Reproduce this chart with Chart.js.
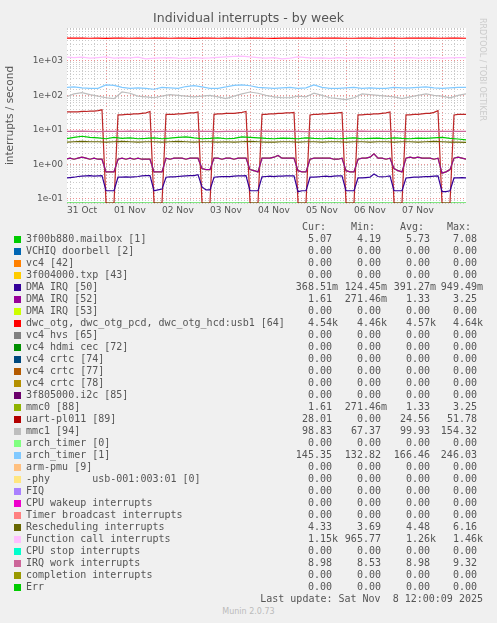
<!DOCTYPE html>
<html>
<head>
<meta charset="utf-8">
<script src="https://cdn.jsdelivr.net/npm/chart.js@4"></script>
<style>
  body { margin: 0; background: #f0f0f0; width: 497px; height: 623px; overflow: hidden; font-family: "DejaVu Sans", sans-serif; }
  #wrap { position: absolute; left: 0; top: 0; width: 497px; height: 225px; }
  .abs { position: absolute; white-space: pre; line-height: 12px; }
  .mono { font-family: "DejaVu Sans Mono", monospace; font-size: 10px; color: #555; }
  .sw { position: absolute; width: 7px; height: 7px; }
</style>
</head>
<body>
<div id="wrap"><canvas id="c" width="497" height="225"></canvas></div>
<div class="abs" style="left:0;width:497px;top:12px;text-align:center;font-size:12.5px;color:#555;">Individual interrupts - by week</div>
<div class="abs" style="left:478px;top:18px;font-size:8px;color:#ccc;transform-origin:0 0;transform:translate(10px,0) rotate(90deg);">RRDTOOL / TOBI OETIKER</div>
<div id="legend"></div>
<script>
/* --- dados --- */
const names = ['3f00b880.mailbox [1]', 'VCHIQ doorbell [2]', 'vc4 [42]', '3f004000.txp [43]', 'DMA IRQ [50]',
  'DMA IRQ [52]', 'DMA IRQ [53]', 'dwc_otg, dwc_otg_pcd, dwc_otg_hcd:usb1 [64]', 'vc4 hvs [65]', 'vc4 hdmi cec [72]',
  'vc4 crtc [74]', 'vc4 crtc [77]', 'vc4 crtc [78]', '3f805000.i2c [85]', 'mmc0 [88]', 'uart-pl011 [89]', 'mmc1 [94]',
  'arch_timer [0]', 'arch_timer [1]', 'arm-pmu [9]', '-phy       usb-001:003:01 [0]', 'FIQ', 'CPU wakeup interrupts',
  'Timer broadcast interrupts', 'Rescheduling interrupts', 'Function call interrupts', 'CPU stop interrupts',
  'IRQ work interrupts', 'completion interrupts', 'Err'];
const colors = ['#00cc00', '#0066b3', '#ff8000', '#ffcc00', '#330099', '#990099', '#ccff00', '#ff0000', '#808080', '#008f00',
  '#00487d', '#b35a00', '#b38f00', '#6b006b', '#8fb300', '#b30000', '#bebebe', '#80ff80', '#80c9ff', '#ffc080',
  '#ffe680', '#aa80ff', '#ee00cc', '#ff8080', '#666600', '#ffbfff', '#00ffcc', '#cc6699', '#999900', '#00cc00'];
const curV = ['5.07', '0.00', '0.00', '0.00', '368.51m', '1.61', '0.00', '4.54k', '0.00', '0.00', '0.00', '0.00', '0.00', '0.00',
  '1.61', '28.01', '98.83', '0.00', '145.35', '0.00', '0.00', '0.00', '0.00', '0.00', '4.33', '1.15k', '0.00', '8.98', '0.00', '0.00'];
const minV = ['4.19', '0.00', '0.00', '0.00', '124.45m', '271.46m', '0.00', '4.46k', '0.00', '0.00', '0.00', '0.00', '0.00', '0.00',
  '271.46m', '0.00', '67.37', '0.00', '132.82', '0.00', '0.00', '0.00', '0.00', '0.00', '3.69', '965.77', '0.00', '8.53', '0.00', '0.00'];
const avgV = ['5.73', '0.00', '0.00', '0.00', '391.27m', '1.33', '0.00', '4.57k', '0.00', '0.00', '0.00', '0.00', '0.00', '0.00',
  '1.33', '24.56', '99.93', '0.00', '166.46', '0.00', '0.00', '0.00', '0.00', '0.00', '4.48', '1.26k', '0.00', '8.98', '0.00', '0.00'];
const maxV = ['7.08', '0.00', '0.00', '0.00', '949.49m', '3.25', '0.00', '4.64k', '0.00', '0.00', '0.00', '0.00', '0.00', '0.00',
  '3.25', '51.78', '154.32', '0.00', '246.03', '0.00', '0.00', '0.00', '0.00', '0.00', '6.16', '1.46k', '0.00', '9.32', '0.00', '0.00'];

/* horas desde 31 Oct 00:00 — amostras a cada 2 h (fino) e 4 h (grosso) */
const hoursFine = [];
for (let h = 4; h <= 204; h += 2) hoursFine.push(h);
const hoursCoarse = [];
for (let h = 4; h <= 204; h += 4) hoursCoarse.push(h);

const uart = [
  33, 33, 33, 33, 34, 34, 35, 35, 36, 38,
  0, 0, 0, 27, 27, 28, 28, 29, 29, 30, 31, 34,
  0, 0, 0, 28, 28, 28, 29, 29, 30, 31, 31, 33,
  0, 0, 0, 28, 29, 29, 30, 30, 30, 31, 32, 34,
  0, 0, 0, 28, 28, 29, 29, 30, 30, 31, 31, 32,
  0, 0, 0, 27, 28, 28, 29, 29, 30, 30, 31, 32,
  0, 0, 0, 27, 27, 28, 28, 29, 29, 30, 31, 33,
  0, 0, 0, 27, 27, 28, 28, 29, 30, 30, 32, 36,
  0, 0, 0, 27, 28, 28, 28];
const dma50 = [
  0.40, 0.41, 0.42, 0.44, 0.45, 0.46, 0.47, 0.45, 0.46, 0.47,
  0.17, 0.17, 0.17, 0.42, 0.42, 0.43, 0.42, 0.43, 0.44, 0.46, 0.47, 0.47,
  0.17, 0.18, 0.19, 0.42, 0.43, 0.43, 0.44, 0.45, 0.46, 0.47, 0.47, 0.50,
  0.22, 0.18, 0.18, 0.42, 0.43, 0.44, 0.44, 0.44, 0.45, 0.46, 0.46, 0.47,
  0.17, 0.17, 0.17, 0.43, 0.44, 0.45, 0.44, 0.45, 0.45, 0.46, 0.46, 0.46,
  0.16, 0.17, 0.17, 0.42, 0.42, 0.43, 0.44, 0.45, 0.44, 0.45, 0.46, 0.46,
  0.17, 0.17, 0.17, 0.40, 0.40, 0.41, 0.42, 0.52, 0.44, 0.43, 0.44, 0.46,
  0.17, 0.17, 0.17, 0.40, 0.41, 0.42, 0.42, 0.43, 0.44, 0.44, 0.45, 0.46,
  0.16, 0.16, 0.17, 0.40, 0.40, 0.41, 0.40];
const mmc0 = [
  1.4, 1.5, 1.4, 1.5, 1.6, 1.5, 1.4, 1.5, 1.4, 1.4,
  0.6, 0.6, 0.6, 1.4, 1.5, 1.4, 1.5, 1.4, 1.5, 1.4, 1.4, 1.4,
  0.6, 0.6, 0.6, 1.5, 1.4, 1.5, 1.5, 1.5, 1.4, 1.5, 1.5, 1.5,
  0.75, 0.7, 0.7, 1.5, 1.5, 1.4, 1.5, 1.5, 1.4, 1.5, 1.5, 1.5,
  0.7, 0.65, 0.6, 1.5, 1.5, 1.5, 1.6, 1.8, 1.5, 1.5, 1.5, 1.5,
  0.65, 0.6, 0.6, 1.4, 1.5, 1.5, 1.5, 1.5, 1.5, 1.4, 1.4, 1.5,
  0.65, 0.6, 0.6, 1.4, 1.5, 1.5, 1.6, 2.0, 1.5, 1.5, 1.4, 1.5,
  0.75, 0.65, 0.6, 1.5, 1.6, 1.5, 1.6, 1.5, 1.5, 1.5, 1.4, 1.5,
  0.55, 0.6, 0.7, 1.5, 1.6, 1.5, 1.4];

const dwc = [
  4600, 4550, 4560, 4540, 4550, 4520, 4550, 4560, 4540, 4550,
  4530, 4560, 4550, 4540, 4560, 4550, 4520, 4560, 4550, 4540,
  4560, 4550, 4540, 4560, 4550, 4540, 4520, 4560, 4550, 4550,
  4560, 4540, 4550, 4550, 4560, 4540, 4530, 4560, 4550, 4540,
  4560, 4550, 4540, 4560, 4550, 4550, 4560, 4540, 4550, 4560, 4540];
const funcCall = [
  1300, 1250, 1280, 1200, 1250, 1300, 1200, 1250, 1220, 1280,
  1150, 1200, 1220, 1250, 1200, 1180, 1250, 1200, 1220, 1260,
  1300, 1350, 1380, 1300, 1250, 1200, 1250, 1150, 1200, 1300,
  1250, 1200, 1220, 1180, 1250, 1200, 1220, 1250, 1200, 1220,
  1250, 1200, 1220, 1250, 1200, 1220, 1250, 1200, 1230, 1250, 1250];
const arch1 = [
  170, 175, 165, 160, 160, 200, 195, 170, 160, 165,
  160, 150, 170, 165, 160, 180, 190, 175, 160, 160,
  175, 195, 200, 190, 170, 165, 160, 165, 170, 160,
  165, 200, 170, 160, 160, 165, 170, 160, 165, 160,
  160, 170, 165, 165, 170, 175, 165, 160, 165, 170, 170];
const mmc1 = [
  90, 110, 120, 105, 95, 85, 80, 125, 115, 95,
  90, 85, 95, 105, 100, 95, 90, 95, 100, 90,
  80, 95, 110, 125, 115, 100, 90, 85, 85, 95,
  90, 115, 100, 85, 80, 75, 85, 110, 105, 100,
  95, 90, 80, 90, 100, 110, 100, 95, 85, 100, 110];
const mailbox = [
  5.5, 6.0, 6.5, 6.0, 5.8, 5.5, 6.0, 5.6, 5.8, 5.5,
  5.6, 5.8, 5.5, 5.7, 6.0, 6.2, 5.8, 5.5, 5.6, 5.8,
  5.5, 5.6, 6.2, 6.0, 5.8, 5.6, 5.5, 5.7, 5.6, 5.5,
  5.8, 5.6, 5.5, 5.7, 5.5, 5.6, 5.8, 5.5, 5.6, 5.7,
  5.5, 5.8, 5.6, 5.5, 5.7, 5.6, 5.8, 6.0, 5.6, 5.4, 5.1];
const resched = [
  4.4, 4.5, 4.6, 4.5, 4.5, 4.4, 4.5, 4.6, 4.5, 4.4,
  4.5, 4.5, 4.4, 4.5, 4.6, 4.5, 4.4, 4.5, 4.5, 4.4,
  4.5, 4.4, 4.5, 4.6, 4.5, 4.4, 4.4, 4.5, 4.5, 4.4,
  4.5, 4.5, 4.4, 4.5, 4.5, 4.4, 4.5, 4.5, 4.4, 4.5,
  4.5, 4.4, 4.5, 4.5, 4.4, 4.5, 4.6, 4.5, 4.4, 4.4, 4.3];
const irqWork = [
  9.0, 9.0, 9.1, 9.0, 8.9, 9.0, 9.0, 9.0, 9.1, 9.0,
  9.0, 8.9, 9.0, 9.0, 9.0, 9.0, 9.1, 9.0, 9.0, 8.9,
  9.0, 9.0, 9.0, 9.0, 9.0, 9.1, 9.0, 9.0, 9.0, 9.0,
  8.9, 9.0, 9.0, 9.0, 9.0, 9.0, 9.0, 9.1, 9.0, 9.0,
  9.0, 9.0, 8.9, 9.0, 9.0, 9.0, 9.0, 9.0, 9.0, 9.0, 9.0];
const errZero = hoursCoarse.map(() => 0);

const dayLabels = ['31 Oct', '01 Nov', '02 Nov', '03 Nov', '04 Nov', '05 Nov', '06 Nov', '07 Nov'];
const Y_MIN = 0.075, Y_MAX = 9000;

/* --- monta os datasets --- */
const toPts = (xs, vs) => vs.map((v, i) => ({ x: xs[i], y: v === 0 ? Y_MIN : v }));
const series = [
  [7, hoursCoarse, dwc], [25, hoursCoarse, funcCall], [18, hoursCoarse, arch1], [16, hoursCoarse, mmc1],
  [27, hoursCoarse, irqWork], [0, hoursCoarse, mailbox], [24, hoursCoarse, resched],
  [5, hoursFine, mmc0], [14, hoursFine, mmc0], [4, hoursFine, dma50], [15, hoursFine, uart], [29, hoursCoarse, errZero]
];
const datasets = series.map(([idx, xs, vs]) => ({
  data: toPts(xs, vs), borderColor: colors[idx], borderWidth: 1.2, pointRadius: 0, tension: 0
}));
/* uart com transparência nas quedas, como no rrdtool */
datasets[10].borderColor = 'rgba(179,0,0,0.85)';

const isPow10 = v => Math.abs(Math.log10(v) - Math.round(Math.log10(v))) < 1e-6;

new Chart(document.getElementById('c'), {
  type: 'line',
  data: { datasets },
  options: {
    responsive: false,
    animation: false,
    layout: { padding: { top: 28, right: 31, left: 4, bottom: 0 } },
    plugins: { legend: { display: false }, tooltip: { enabled: false } },
    scales: {
      x: {
        type: 'linear', min: 4.5, max: 204,
        afterBuildTicks: s => { const t = []; for (let h = 6; h <= 204; h += 6) t.push({ value: h }); s.ticks = t; },
        afterFit: s => { s.height = 22; },
        ticks: {
          autoSkip: false, maxRotation: 0, color: '#555', font: { family: 'DejaVu Sans', size: 9 }, padding: 2,
          callback: v => ((v - 12) % 24 === 0 ? dayLabels[(v - 12) / 24] : '')
        },
        grid: {
          color: c => (c.tick && c.tick.value % 24 === 0 ? 'rgba(230,120,120,0.8)' : 'rgba(190,190,190,0.8)'),
          lineWidth: 1, drawTicks: false
        },
        border: { display: false, dash: [1, 2] }
      },
      y: {
        type: 'logarithmic', min: Y_MIN, max: Y_MAX,
        afterFit: s => { s.width = 63; },
        title: { display: true, text: 'interrupts / second', color: '#555', font: { family: 'DejaVu Sans', size: 10.5 }, padding: 0 },
        ticks: {
          autoSkip: false, color: '#555', font: { family: 'DejaVu Sans', size: 9 }, padding: 4,
          callback: v => {
            if (!isPow10(v)) return '';
            const e = Math.round(Math.log10(v));
            return '1e' + (e < 0 ? '-' : '+') + String(Math.abs(e)).padStart(2, '0');
          }
        },
        grid: {
          color: c => (c.tick && isPow10(c.tick.value) ? 'rgba(230,120,120,0.8)' : 'rgba(190,190,190,0.8)'),
          lineWidth: 1, drawTicks: false
        },
        border: { display: false, dash: [1, 2] }
      }
    }
  },
  plugins: [{
    id: 'whiteBg',
    beforeDraw: ch => {
      const a = ch.chartArea, g = ch.ctx;
      g.save(); g.fillStyle = '#fff'; g.fillRect(a.left, a.top, a.right - a.left, a.bottom - a.top); g.restore();
    }
  }]
});

/* --- legenda estilo munin --- */
const cols = [[curV, 338, 'Cur:'], [minV, 387, 'Min:'], [avgV, 436, 'Avg:'], [maxV, 483, 'Max:']];
const pad = s => (/[mk]$/.test(s) ? s : s + ' ');
let html = cols.map(([, r, h]) =>
  `<div class="abs mono" style="right:${497 - r}px;top:221px;">${h}  </div>`).join('');
names.forEach((n, i) => {
  const top = 233 + i * 12;
  html += `<div class="sw" style="left:14px;top:${top + 3}px;background:${colors[i]};"></div>`;
  html += `<div class="abs mono" style="left:26px;top:${top}px;">${n}</div>`;
  cols.forEach(([arr, r]) => {
    html += `<div class="abs mono" style="right:${497 - r}px;top:${top}px;">${pad(arr[i])}</div>`;
  });
});
html += `<div class="abs mono" style="right:14px;top:593px;">Last update: Sat Nov  8 12:00:09 2025</div>`;
html += `<div class="abs" style="left:0;width:497px;text-align:center;top:606px;font-size:8px;color:#bbb;">Munin 2.0.73</div>`;
document.getElementById('legend').innerHTML = html;
</script>
</body>
</html>
